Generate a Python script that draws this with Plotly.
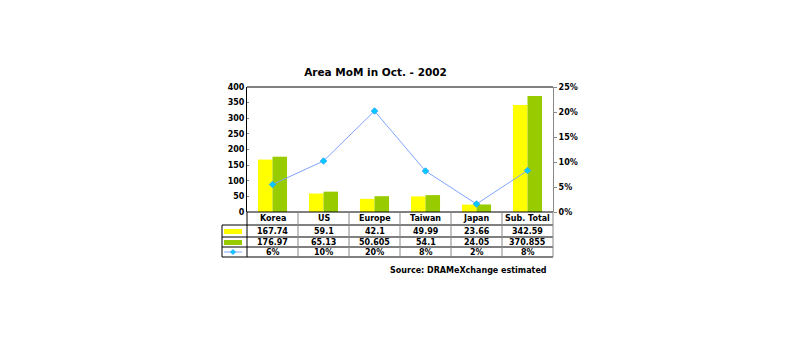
import plotly.graph_objects as go

categories = ["Korea", "US", "Europe", "Taiwan", "Japan", "Sub. Total"]
sep_2002 = [167.74, 59.1, 42.1, 49.99, 23.66, 342.59]
oct_2002 = [176.97, 65.13, 50.605, 54.1, 24.05, 370.855]
mom_pct = [0.055, 0.102, 0.202, 0.082, 0.016, 0.083]
mom_labels = ["6%", "10%", "20%", "8%", "2%", "8%"]
sep_labels = ["167.74", "59.1", "42.1", "49.99", "23.66", "342.59"]
oct_labels = ["176.97", "65.13", "50.605", "54.1", "24.05", "370.855"]

W, H = 800, 342
L, R, T, B = 247, 553, 87, 212
PW, PH = R - L, B - T

def px(X):
    return (X - L) / PW

def py(Y):
    return (B - Y) / PH

FONT = "DejaVu Sans"
FS = 8

fig = go.Figure()
fig.add_trace(go.Bar(x=categories, y=sep_2002, marker=dict(color="#FFFF00", line=dict(width=0)),
                     showlegend=False))
fig.add_trace(go.Bar(x=categories, y=oct_2002, marker=dict(color="#99CC00", line=dict(width=0)),
                     showlegend=False))
fig.add_trace(go.Scatter(x=categories, y=mom_pct, yaxis="y2", mode="lines+markers",
                         line=dict(color="#7FA4FF", width=1),
                         marker=dict(color="#00CCFF", size=5, symbol="diamond",
                                     line=dict(color="#33AAFF", width=1)),
                         showlegend=False, cliponaxis=False))

shapes = []
# top border
shapes.append(dict(type="line", xref="paper", yref="paper", x0=0, x1=1, y0=1, y1=1,
                   line=dict(color="#000000", width=1)))
# table rows
row_y = [212, 225, 237, 247, 257]
for i, Y in enumerate(row_y):
    x0 = px(247) if i == 0 else px(222)
    shapes.append(dict(type="line", xref="paper", yref="paper", x0=x0, x1=1,
                       y0=py(Y), y1=py(Y), line=dict(color="#000000", width=1)))
# verticals
shapes.append(dict(type="line", xref="paper", yref="paper", x0=px(222), x1=px(222),
                   y0=py(225), y1=py(257), line=dict(color="#000000", width=1)))
for k in range(0, 7):
    X = 247 + 51 * k
    col = "#000000" if k == 0 else "#888888"
    shapes.append(dict(type="line", xref="paper", yref="paper", x0=px(X), x1=px(X),
                       y0=py(212), y1=py(257), line=dict(color=col, width=1)))
# legend swatches
shapes.append(dict(type="rect", xref="paper", yref="paper", x0=px(224), x1=px(242),
                   y0=py(234), y1=py(229), fillcolor="#FFFF00", line=dict(width=0)))
shapes.append(dict(type="rect", xref="paper", yref="paper", x0=px(224), x1=px(242),
                   y0=py(245), y1=py(240), fillcolor="#99CC00", line=dict(width=0)))
shapes.append(dict(type="line", xref="paper", yref="paper", x0=px(224), x1=px(242),
                   y0=py(252), y1=py(252), line=dict(color="#7FA4FF", width=1)))
shapes.append(dict(type="path", xref="paper", yref="paper",
                   path=f"M {px(233)},{py(249.5)} L {px(235.5)},{py(252)} L {px(233)},{py(254.5)} L {px(230.5)},{py(252)} Z",
                   fillcolor="#00CCFF", line=dict(color="#33AAFF", width=1)))

annotations = []
rows = [(categories, 218.5), (sep_labels, 231), (oct_labels, 242), (mom_labels, 252)]
for labels, Y in rows:
    for c, t in zip(categories, labels):
        annotations.append(dict(x=c, xref="x", y=py(Y), yref="paper", text=f"<b>{t}</b>",
                                showarrow=False, xanchor="center", yanchor="middle",
                                font=dict(family=FONT, size=FS, color="#000000")))
annotations.append(dict(x=px(549), xref="paper", y=py(270), yref="paper",
                        text="<b>Source: DRAMeXchange estimated</b>", showarrow=False,
                        xanchor="right", yanchor="middle",
                        font=dict(family=FONT, size=FS, color="#000000")))

fig.update_layout(
    width=W, height=H,
    margin=dict(l=L, r=W - R, t=T, b=H - B, pad=0),
    paper_bgcolor="#FFFFFF", plot_bgcolor="#FFFFFF",
    title=dict(text="<b>Area MoM in Oct. - 2002</b>", x=(375.5) / W, xanchor="center",
               y=1 - 72 / H, yanchor="middle",
               font=dict(family=FONT, size=10.5, color="#000000")),
    barmode="group", bargap=0.43, bargroupgap=0,
    xaxis=dict(type="category", showticklabels=False, showgrid=False, zeroline=False,
               showline=False, ticks=""),
    yaxis=dict(range=[0, 400], dtick=50, showgrid=False, zeroline=False,
               showline=True, linecolor="#000000", linewidth=1, ticks="inside",
               ticklen=2, tickcolor="#888888",
               tickfont=dict(family=FONT, size=FS, color="#000000"), tickprefix="<b>",
               ticksuffix="</b>"),
    yaxis2=dict(range=[0, 0.25], dtick=0.05, tickformat=".0%", overlaying="y", side="right",
                showgrid=False, zeroline=False, showline=True, linecolor="#888888",
                linewidth=1, ticks="outside", ticklen=3, tickcolor="#888888",
                tickfont=dict(family=FONT, size=FS, color="#000000"), tickprefix="<b>",
                ticksuffix="</b>"),
    shapes=shapes, annotations=annotations,
)

fig.write_html("out.html")
